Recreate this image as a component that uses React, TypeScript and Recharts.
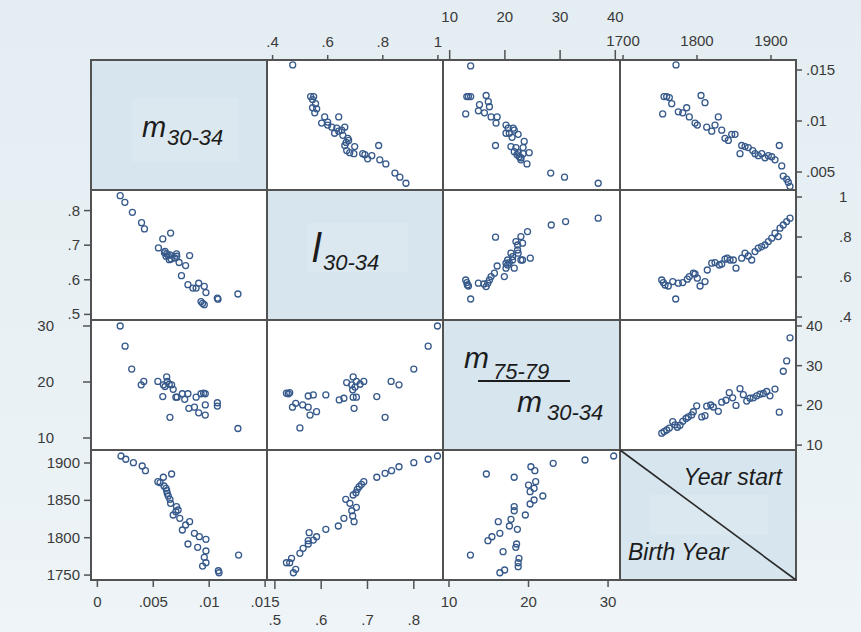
import React from 'react';
import { ScatterChart, Scatter, XAxis, YAxis } from 'recharts';

// ---- data: [x, y] per cell ----
// upper triangle
const mByL = [[.473,.0155],[.538,.0124],[.549,.0124],[.545,.0121],[.556,.0117],[.545,.0113],[.560,.0112],[.553,.0108],[.589,.0104],[.578,.0098],[.600,.0099],[.615,.0094],[.640,.0104],[.633,.0093],[.625,.0088],[.651,.0091],[.662,.0094],[.655,.0086],[.673,.0083],[.676,.0081],[.662,.0076],[.669,.0071],[.698,.0075],[.680,.0069],[.695,.0068],[.727,.0068],[.735,.0067],[.760,.0066],[.745,.0063],[.785,.0076],[.789,.0062],[.811,.0058],[.844,.0049],[.862,.0045],[.884,.0039],[.600,.0096],[.640,.0090],[.667,.0079]];
const mByRatio = [[13.8,.0154],[13.1,.0124],[13.4,.0124],[13.8,.0124],[12.9,.0107],[15.2,.0110],[15.4,.0116],[16.6,.0125],[17.0,.0119],[17.2,.0114],[16.3,.0108],[17.5,.0104],[18.6,.0104],[18.4,.0098],[18.3,.0076],[20.2,.0096],[20.6,.0093],[20.2,.0088],[21.5,.0093],[20.8,.0088],[21.7,.0091],[21.3,.0084],[21.1,.0075],[22.0,.0074],[21.7,.0070],[22.4,.0069],[22.6,.0065],[22.9,.0062],[22.2,.0067],[23.5,.0080],[23.3,.0074],[23.3,.0068],[24.4,.0069],[24.0,.0058],[22.9,.0064],[22.4,.0087],[28.3,.0049],[30.8,.0045],[36.9,.0039]];
const mByYear = [[1771.6,.0155],[1755.4,.0124],[1759,.0124],[1762.6,.0123],[1753.6,.0107],[1765.8,.0117],[1774.7,.0109],[1780.7,.0108],[1786,.0113],[1789.6,.0104],[1797.3,.0098],[1800.4,.0096],[1805.4,.0125],[1810.8,.0118],[1813.1,.0094],[1819.9,.0090],[1824.3,.0096],[1828.8,.0104],[1833.4,.0091],[1837.8,.0083],[1842.3,.0081],[1846.9,.0087],[1851.4,.0087],[1860.4,.0076],[1858.1,.0068],[1864.9,.0075],[1869.3,.0074],[1875.3,.0071],[1878.4,.0068],[1882.8,.0066],[1887.4,.0068],[1891.9,.0064],[1896.4,.0066],[1901,.0065],[1905.4,.0062],[1911.2,.0076],[1914.5,.0056],[1916.6,.0046],[1921.2,.0043],[1923.4,.0040],[1925.7,.0036]];
const lByRatio = [[12.9,.585],[13.1,.572],[13.2,.560],[13.4,.555],[13.8,.490],[15.2,.569],[16.2,.565],[16.6,.552],[16.9,.569],[17.2,.585],[17.5,.602],[18.3,.799],[18.6,.655],[18.1,.619],[19.9,.602],[20.2,.644],[20.2,.669],[20.5,.660],[20.8,.672],[21.1,.719],[21.4,.685],[21.4,.702],[22.0,.777],[22.3,.760],[22.3,.735],[22.4,.719],[22.9,.685],[23.2,.685],[22.9,.802],[23.2,.769],[24.1,.827],[24.6,.694],[21.7,.644],[28.4,.860],[31.0,.877],[36.9,.894],[20.5,.685]];
const lByYear = [[1752.3,.585],[1754.5,.572],[1756.8,.560],[1761.2,.555],[1771.2,.490],[1767.2,.577],[1774.7,.569],[1780.7,.572],[1786.9,.589],[1789.6,.602],[1795,.619],[1797.3,.615],[1800.4,.594],[1804.1,.555],[1810.8,.577],[1813.9,.635],[1819.9,.669],[1824.3,.672],[1830.1,.660],[1833.4,.665],[1837.8,.689],[1840.9,.694],[1844.6,.685],[1849.1,.685],[1852.7,.644],[1860.4,.694],[1864.9,.719],[1869.3,.705],[1873.9,.685],[1878.4,.727],[1882.8,.744],[1887.4,.752],[1891.9,.760],[1896.4,.777],[1901,.794],[1905.4,.819],[1909.9,.802],[1912.2,.844],[1916.6,.860],[1921.2,.877],[1925.7,.894]];
const ratioByYear = [[1752.3,13.0],[1755.4,13.4],[1759,13.8],[1762.6,14.3],[1767.2,15.9],[1770.3,15.1],[1773.4,14.5],[1777,15.0],[1780.7,16.0],[1785.1,16.7],[1788.2,17.1],[1792.8,17.6],[1795,18.4],[1799.6,19.9],[1806.4,17.1],[1810.8,17.4],[1813.1,19.8],[1818.5,20.1],[1822,19.6],[1828.8,18.5],[1833.4,20.8],[1839.2,21.3],[1843.6,23.2],[1848.2,21.9],[1852.7,20.0],[1858.1,24.2],[1862.6,22.7],[1867.2,21.1],[1871.6,21.8],[1876.1,21.9],[1880.7,22.4],[1885.1,22.8],[1889.6,23.0],[1894.2,23.5],[1898.6,22.4],[1905.4,24.1],[1911.2,18.3],[1916.6,28.6],[1921.2,31.2],[1925.7,37.0]];
// lower triangle
const lByM = [[.00204,.843],[.00246,.824],[.00313,.795],[.00395,.765],[.00421,.747],[.00585,.718],[.00655,.735],[.00546,.692],[.00605,.682],[.0062,.675],[.00614,.668],[.00634,.670],[.00649,.672],[.00643,.658],[.00708,.675],[.00693,.663],[.00731,.650],[.00789,.641],[.00825,.670],[.00752,.612],[.0081,.586],[.00854,.576],[.00883,.576],[.00906,.590],[.00956,.581],[.00971,.563],[.00927,.537],[.00941,.532],[.00956,.528],[.01073,.547],[.01079,.544],[.01257,.559],[.0060,.678],[.0066,.660],[.0071,.668]];
const ratioByM = [[.00204,30.0],[.00248,26.4],[.00307,22.3],[.00392,19.5],[.00415,20.1],[.00541,20.1],[.0059,19.5],[.0062,20.9],[.00625,20.1],[.00643,19.6],[.00605,19.2],[.00664,19.5],[.00678,18.7],[.00585,17.4],[.00702,17.3],[.00713,17.3],[.0076,17.9],[.0081,17.9],[.00781,16.9],[.00818,15.3],[.00868,15.5],[.00883,17.3],[.00927,17.9],[.0095,18.0],[.00965,17.9],[.00906,14.5],[.00965,15.9],[.00965,14.1],[.01073,16.3],[.01073,15.7],[.00649,13.7],[.01257,11.7]];
const ratioByL = [[.851,30.0],[.831,26.4],[.800,22.3],[.751,20.1],[.768,19.5],[.655,19.9],[.669,20.9],[.666,19.5],[.676,20.1],[.684,19.6],[.692,20.1],[.673,19.1],[.668,18.6],[.669,17.3],[.676,17.3],[.671,15.3],[.639,16.8],[.649,17.1],[.720,17.4],[.738,13.7],[.610,17.7],[.583,17.7],[.572,17.5],[.525,18.0],[.529,17.9],[.532,18.1],[.538,15.5],[.545,16.2],[.560,15.9],[.572,15.5],[.576,14.1],[.590,14.7],[.554,11.8]];
const yearByM = [[.00211,1909.4],[.00254,1905],[.00322,1900.4],[.00401,1896],[.0043,1889.7],[.00541,1875],[.0059,1880.9],[.00664,1885.3],[.00561,1873.6],[.00596,1869.2],[.00614,1866.1],[.0062,1862.9],[.00625,1859.4],[.00634,1855.8],[.00649,1851.4],[.00655,1846],[.00708,1841.5],[.00722,1837.1],[.00678,1830.4],[.00702,1834.8],[.00737,1826],[.00825,1821.4],[.00789,1817],[.0076,1810.3],[.00868,1805.9],[.00912,1801.4],[.00971,1797.9],[.0081,1791.6],[.00897,1787.2],[.00971,1782.2],[.00956,1773.8],[.00971,1766.5],[.00941,1762.1],[.01082,1755.8],[.01088,1753.1],[.01263,1776.8]];
const yearByL = [[.851,1909.4],[.831,1905],[.800,1900.4],[.768,1895],[.752,1889.7],[.738,1886.2],[.720,1880.9],[.692,1875],[.687,1871.5],[.682,1868.3],[.678,1864.8],[.675,1860.2],[.669,1857.2],[.653,1851.4],[.662,1846],[.676,1840.7],[.666,1836.1],[.668,1829.1],[.671,1821.4],[.649,1826],[.637,1815.7],[.610,1811.2],[.590,1801.3],[.583,1796.9],[.574,1806.7],[.572,1791.6],[.572,1796],[.561,1785.8],[.554,1779.1],[.536,1772.4],[.532,1766.5],[.525,1766.5],[.545,1757.7],[.540,1753.1]];
const yearByRatio = [[30.7,1909.4],[27.1,1904],[23.1,1899.6],[20.3,1895],[20.8,1889.7],[14.7,1885.3],[18.2,1880.9],[20.9,1875],[20.0,1870.5],[20.7,1866.1],[20.2,1861.6],[21.8,1855.8],[20.7,1850.5],[20.2,1845.1],[18.2,1841.5],[18.2,1836.1],[19.6,1830.4],[17.8,1824.6],[17.6,1815.7],[18.6,1811.2],[16.2,1821.4],[16.4,1805.9],[15.4,1801.3],[14.9,1796],[18.5,1791.6],[18.4,1787.1],[16.8,1781.3],[12.7,1776.8],[18.8,1772.4],[18.7,1766.5],[18.7,1761.2],[17.0,1756.8],[16.4,1753.1]];

// tick values
const mTicks = [0.005, 0.01, 0.015];
const mTicksLow = [0, 0.005, 0.01, 0.015];
const lTicks = [0.4, 0.6, 0.8, 1];
const lTicksLow = [0.5, 0.6, 0.7, 0.8];
const ratioTicks = [10, 20, 30, 40];
const ratioTicksLow = [10, 20, 30];
const yearTicks = [1700, 1800, 1900];
const yearTicksLow = [1750, 1800, 1850, 1900];

const W = 861, H = 632;
const colX = [91, 267, 443, 620, 796];
const rowY = [60, 190, 320, 450, 580];
const FONT = '"Liberation Sans", Arial, Helvetica, sans-serif';
const INK = '#3a3a3a';
const FRAME = '#525252';
const DOT = '#36598b';

const fmt = (v: number) => String(v).replace(/^0\./, '.');

type Side = 'top' | 'bottom' | 'left' | 'right';
interface AxisSpec { side: Side; ticks: number[]; len: number; at: number }
interface CellProps {
  r: number; c: number; data: number[][];
  xd: [number, number]; yd: [number, number];
  xAxis?: AxisSpec; yAxis?: AxisSpec;
}

const dot = (p: any) => (
  <circle cx={p.cx} cy={p.cy} r={3} fill="none" stroke={DOT} strokeWidth={1.3} />
);

function PlotCell({ r, c, data, xd, yd, xAxis, yAxis }: CellProps) {
  const w = colX[c + 1] - colX[c];
  const h = rowY[r + 1] - rowY[r];
  const T = xAxis?.side === 'top' ? rowY[r] : 0;
  const B = xAxis?.side === 'bottom' ? H - rowY[r + 1] : 0;
  const L = yAxis?.side === 'left' ? colX[c] : 0;
  const R = yAxis?.side === 'right' ? W - colX[c + 1] : 0;
  const ox = colX[c] - L;
  const oy = rowY[r] - T;
  const pts = data.map(([x, y]) => ({ x, y }));

  const xTick = (p: any) => {
    if (!xAxis) return <g />;
    const top = xAxis.side === 'top';
    const edge = top ? T : T + h;
    const dir = top ? -1 : 1;
    return (
      <g>
        <line x1={p.x} x2={p.x} y1={edge} y2={edge + dir * xAxis.len} stroke={FRAME} strokeWidth={1.5} />
        <text x={p.x} y={xAxis.at - oy} textAnchor="middle" fontSize={15} fill={INK} fontFamily={FONT}>
          {fmt(p.payload.value)}
        </text>
      </g>
    );
  };
  const yTick = (p: any) => {
    if (!yAxis) return <g />;
    const left = yAxis.side === 'left';
    const edge = left ? L : L + w;
    const dir = left ? -1 : 1;
    return (
      <g>
        <line x1={edge} x2={edge + dir * yAxis.len} y1={p.y} y2={p.y} stroke={FRAME} strokeWidth={1.5} />
        <text x={yAxis.at - ox} y={p.y + 5} textAnchor={left ? 'end' : 'start'} fontSize={15} fill={INK} fontFamily={FONT}>
          {fmt(p.payload.value)}
        </text>
      </g>
    );
  };

  return (
    <div style={{ position: 'absolute', left: ox, top: oy }}>
      <ScatterChart width={w + L + R} height={h + T + B} margin={{ top: 0, right: 0, bottom: 0, left: 0 }}>
        <XAxis
          type="number" dataKey="x" domain={xd} allowDataOverflow
          hide={!xAxis} orientation={xAxis?.side === 'top' ? 'top' : 'bottom'}
          height={T || B || 30} ticks={xAxis?.ticks} interval={0}
          tick={xTick} tickLine={false} axisLine={false}
        />
        <YAxis
          type="number" dataKey="y" domain={yd} allowDataOverflow
          hide={!yAxis} orientation={yAxis?.side === 'right' ? 'right' : 'left'}
          width={L || R || 40} ticks={yAxis?.ticks} interval={0}
          tick={yTick} tickLine={false} axisLine={false}
        />
        <Scatter data={pts} isAnimationActive={false} shape={dot} />
      </ScatterChart>
    </div>
  );
}

// axis domains (per column / row, matching the printed tick positions)
const X_M: [number, number] = [-0.00057, 0.01517];
const X_L_UP: [number, number] = [0.3797, 1.0185];
const X_L_LOW: [number, number] = [0.483, 0.863];
const X_R_UP: [number, number] = [8.79, 40.85];
const X_R_LOW: [number, number] = [9.25, 31.5];
const X_YEAR: [number, number] = [1695.9, 1933.8];
const Y_M: [number, number] = [0.00324, 0.01598];
const Y_L_UP: [number, number] = [0.385, 1.035];
const Y_L_LOW: [number, number] = [0.4838, 0.8595];
const Y_R_UP: [number, number] = [8.77, 41.5];
const Y_R_LOW: [number, number] = [7.86, 31.07];
const Y_YEAR: [number, number] = [1743.4, 1917.4];

const cells: CellProps[] = [
  { r: 0, c: 1, data: mByL, xd: X_L_UP, yd: Y_M, xAxis: { side: 'top', ticks: lTicks, len: 5, at: 47 } },
  { r: 0, c: 2, data: mByRatio, xd: X_R_UP, yd: Y_M, xAxis: { side: 'top', ticks: ratioTicks, len: 10, at: 22 } },
  { r: 0, c: 3, data: mByYear, xd: X_YEAR, yd: Y_M,
    xAxis: { side: 'top', ticks: yearTicks, len: 5, at: 46 }, yAxis: { side: 'right', ticks: mTicks, len: 6, at: 806 } },
  { r: 1, c: 2, data: lByRatio, xd: X_R_UP, yd: Y_L_UP },
  { r: 1, c: 3, data: lByYear, xd: X_YEAR, yd: Y_L_UP, yAxis: { side: 'right', ticks: lTicks, len: 6, at: 839 } },
  { r: 2, c: 3, data: ratioByYear, xd: X_YEAR, yd: Y_R_UP, yAxis: { side: 'right', ticks: ratioTicks, len: 6, at: 806 } },
  { r: 1, c: 0, data: lByM, xd: X_M, yd: Y_L_LOW, yAxis: { side: 'left', ticks: lTicksLow, len: 7, at: 80 } },
  { r: 2, c: 0, data: ratioByM, xd: X_M, yd: Y_R_LOW, yAxis: { side: 'left', ticks: ratioTicksLow, len: 8, at: 54 } },
  { r: 2, c: 1, data: ratioByL, xd: X_L_LOW, yd: Y_R_LOW },
  { r: 3, c: 0, data: yearByM, xd: X_M, yd: Y_YEAR,
    xAxis: { side: 'bottom', ticks: mTicksLow, len: 7, at: 607 }, yAxis: { side: 'left', ticks: yearTicksLow, len: 7, at: 80 } },
  { r: 3, c: 1, data: yearByL, xd: X_L_LOW, yd: Y_YEAR, xAxis: { side: 'bottom', ticks: lTicksLow, len: 9, at: 625 } },
  { r: 3, c: 2, data: yearByRatio, xd: X_R_LOW, yd: Y_YEAR, xAxis: { side: 'bottom', ticks: ratioTicksLow, len: 7, at: 607 } },
];

const DIAG_BG = '#d6e5ee';
const DIAG_INNER = '#dce8ef';

export default function App() {
  const lab = { fontFamily: FONT, fontStyle: 'italic' as const, fill: '#1c1c1c' };
  return (
    <div style={{ position: 'absolute', left: 0, top: 0, width: W, height: H, overflow: 'hidden',
      background: 'linear-gradient(180deg, #e4edf2 0%, #e9f1f5 60%, #eef4f7 100%)' }}>
      <style>{'.recharts-wrapper, .recharts-surface { overflow: visible !important; }'}</style>
      {[0, 1, 2, 3].map((r) => [0, 1, 2, 3].map((c) => (
        <div key={`bg${r}${c}`} style={{ position: 'absolute', left: colX[c], top: rowY[r],
          width: colX[c + 1] - colX[c], height: rowY[r + 1] - rowY[r], background: r === c ? DIAG_BG : '#ffffff' }} />
      )))}
      <div style={{ position: 'absolute', left: 132, top: 98, width: 106, height: 64, background: DIAG_INNER }} />
      <div style={{ position: 'absolute', left: 307, top: 223, width: 101, height: 49, background: DIAG_INNER }} />
      <div style={{ position: 'absolute', left: 650, top: 495, width: 118, height: 40, background: DIAG_INNER }} />
      {cells.map((cell) => <PlotCell key={`c${cell.r}${cell.c}`} {...cell} />)}
      <svg width={W} height={H} style={{ position: 'absolute', left: 0, top: 0, pointerEvents: 'none' }}>
        {colX.map((x) => <line key={`vx${x}`} x1={x} x2={x} y1={rowY[0] - 1} y2={rowY[4] + 1} stroke={FRAME} strokeWidth={2} />)}
        {rowY.map((y) => <line key={`hy${y}`} x1={colX[0] - 1} x2={colX[4] + 1} y1={y} y2={y} stroke={FRAME} strokeWidth={2} />)}
        <text x={142} y={137} fontSize={29} {...lab}>m</text>
        <text x={167} y={145} fontSize={22} {...lab}>30-34</text>
        <text x={312} y={262} fontSize={40} {...lab}>l</text>
        <text x={323} y={270} fontSize={22} {...lab}>30-34</text>
        <text x={464} y={368} fontSize={30} {...lab}>m</text>
        <text x={493} y={379} fontSize={22} {...lab}>75-79</text>
        <line x1={478} x2={570} y1={381} y2={381} stroke="#1c1c1c" strokeWidth={2} />
        <text x={517} y={412} fontSize={30} {...lab}>m</text>
        <text x={547} y={420} fontSize={22} {...lab}>30-34</text>
        <line x1={colX[3]} y1={rowY[3]} x2={colX[4]} y2={rowY[4]} stroke="#2a2a2a" strokeWidth={1.6} />
        <text x={782} y={485} fontSize={23} textAnchor="end" {...lab}>Year start</text>
        <text x={628} y={560} fontSize={23} {...lab}>Birth Year</text>
      </svg>
    </div>
  );
}
